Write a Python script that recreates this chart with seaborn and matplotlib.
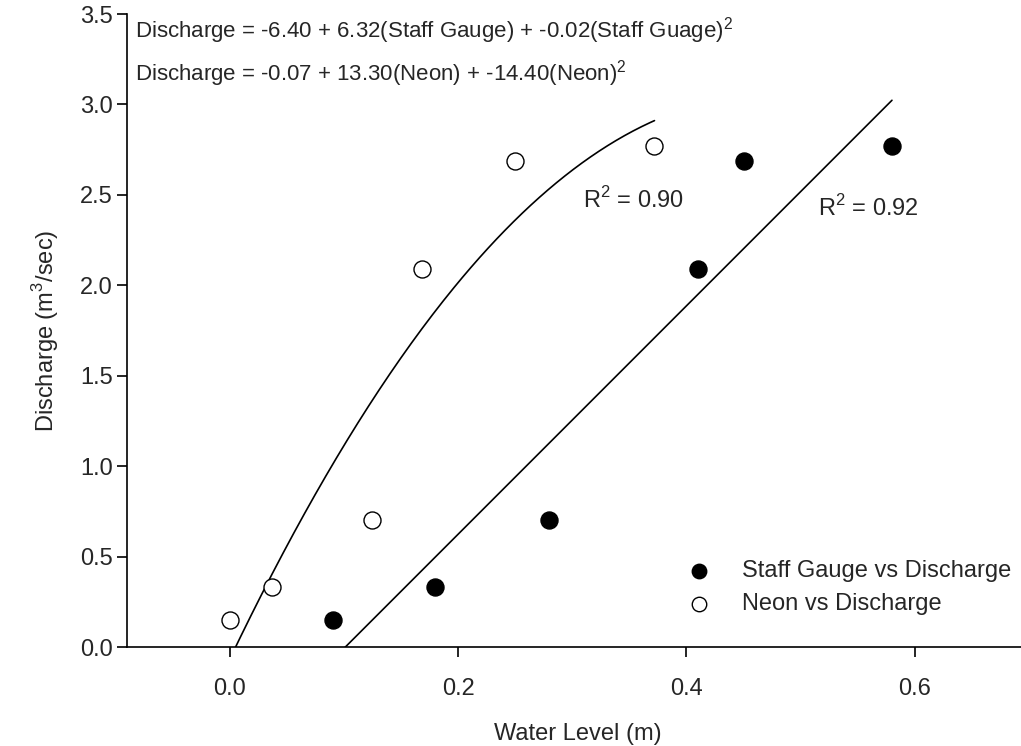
import numpy as np
import pandas as pd
import seaborn as sns
import matplotlib
matplotlib.use('Agg')
import matplotlib.pyplot as plt

#======data======
staff_level = [0.09, 0.18, 0.28, 0.41, 0.45, 0.58]
neon_level = [0.0, 0.037, 0.125, 0.168, 0.25, 0.372]
discharge = [0.15, 0.33, 0.70, 2.09, 2.69, 2.77]

eq_staff = 'Discharge = -6.40 + 6.32(Staff Gauge) + -0.02(Staff Guage)$^2$'
eq_neon = 'Discharge = -0.07 + 13.30(Neon) + -14.40(Neon)$^2$'
r2_neon = 'R$^2$ = 0.90'
r2_staff = 'R$^2$ = 0.92'

df_staff = pd.DataFrame({'level': staff_level, 'q': discharge})
df_neon = pd.DataFrame({'level': neon_level, 'q': discharge})

#======fits======
staff_fit = np.polyfit(staff_level, discharge, 1)
neon_fit = np.polyfit(neon_level, discharge, 2)
xs = np.linspace(min(staff_level), max(staff_level), 200)
xn = np.linspace(min(neon_level), max(neon_level), 200)
fit_staff = pd.DataFrame({'level': xs, 'q': np.polyval(staff_fit, xs)})
fit_neon = pd.DataFrame({'level': xn, 'q': np.polyval(neon_fit, xn)})

#======plot======
sns.set_style('ticks')
plt.rcParams['font.family'] = ['Liberation Sans', 'DejaVu Sans']
plt.rcParams['mathtext.fontset'] = 'custom'
plt.rcParams['mathtext.rm'] = 'Liberation Sans'

fig = plt.figure(figsize=(10.21, 7.46), dpi=100)
ax = fig.add_axes([0.1244, 0.1327, 0.8834, 0.8485])

sns.lineplot(data=fit_neon, x='level', y='q', color='black', lw=1.2, ax=ax)
sns.lineplot(data=fit_staff, x='level', y='q', color='black', lw=1.2, ax=ax)
sns.scatterplot(data=df_staff, x='level', y='q', s=150, color='black', edgecolor='black',
                linewidth=1, label='Staff Gauge vs Discharge', ax=ax, zorder=3)
sns.scatterplot(data=df_neon, x='level', y='q', s=150, facecolor='white', edgecolor='black',
                linewidth=1, label='Neon vs Discharge', ax=ax, zorder=3)

ax.set_xlim(-0.09, 0.7)
ax.set_ylim(0, 3.5)
ax.set_xticks([0.0, 0.2, 0.4, 0.6])
ax.set_yticks(np.arange(0, 3.51, 0.5))
ax.xaxis.set_major_formatter(matplotlib.ticker.FormatStrFormatter('%.1f'))
ax.yaxis.set_major_formatter(matplotlib.ticker.FormatStrFormatter('%.1f'))
ax.tick_params(labelsize=17, length=7, width=1.2, color='black', pad=3)
ax.tick_params(axis='x', pad=15)
for side in ['left', 'bottom']:
    ax.spines[side].set_linewidth(1.2)
    ax.spines[side].set_color('black')
sns.despine(ax=ax)

ax.set_xlabel('Water Level (m)', fontsize=17, labelpad=17)
ax.set_ylabel('Discharge (m$^3$/sec)', fontsize=17, labelpad=14)

ax.text(-0.083, 3.41, eq_staff, fontsize=16, va='center')
ax.text(-0.083, 3.17, eq_neon, fontsize=16, va='center')
ax.text(0.309, 2.47, r2_neon, fontsize=17, va='center')
ax.text(0.515, 2.425, r2_staff, fontsize=17, va='center')

leg = ax.legend(loc='lower left', bbox_to_anchor=(0.598, 0.036), frameon=False, fontsize=17,
                handletextpad=0.8, labelspacing=0.45, borderaxespad=0, markerscale=0.85)

fig.savefig('out.png', dpi=100)
